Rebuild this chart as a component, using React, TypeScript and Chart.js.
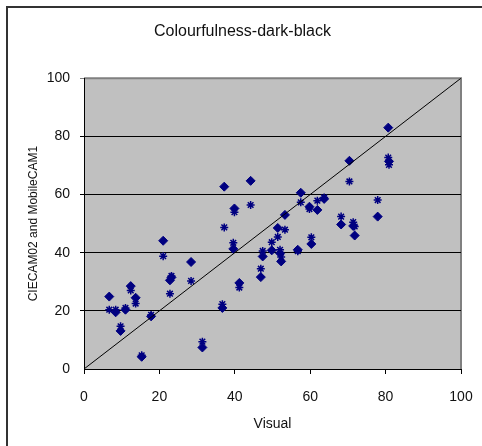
import React, { useEffect, useRef } from "react";
import { Chart, registerables } from "chart.js";

Chart.register(...registerables);

const titleText = "Colourfulness-dark-black";
const xTitle = "Visual";
const yTitle = "CIECAM02 and MobileCAM1";
const tickValues = [0, 20, 40, 60, 80, 100];

const visual = [6.7, 8.4, 9.7, 11.0, 12.4, 13.7, 15.3, 17.8, 21.0, 22.8, 23.2, 28.4, 31.4, 36.7, 37.2, 39.6, 39.9, 41.2, 44.2, 46.9, 47.4, 49.8, 51.4, 52.0, 52.3, 53.3, 56.7, 57.5, 59.8, 60.3, 61.9, 63.7, 68.2, 70.4, 71.4, 71.8, 77.9, 80.7, 80.9];
const ciecam02 = [24.9, 19.5, 13.1, 20.4, 28.5, 24.5, 4.2, 18.1, 44.1, 30.5, 31.5, 36.8, 7.4, 21.0, 62.7, 41.3, 55.2, 29.6, 64.7, 31.6, 38.7, 40.8, 48.5, 39.8, 37.0, 53.0, 41.0, 60.6, 55.8, 43.0, 54.7, 58.5, 49.7, 71.6, 49.2, 45.9, 52.4, 83.0, 71.4];
const mobilecam1 = [20.4, 20.4, 14.7, 21.0, 27.0, 22.5, 4.7, 18.6, 38.8, 25.9, 32.0, 30.3, 9.4, 22.3, 48.7, 43.4, 53.9, 28.0, 56.4, 34.5, 40.6, 43.6, 45.4, 41.0, 38.5, 47.9, 40.5, 57.3, 55.0, 45.3, 57.9, 59.0, 52.4, 64.5, 50.5, 49.0, 58.1, 72.7, 70.2];
const diagonal = [0, 100];

const plotBg = {
  id: "plotBg",
  beforeDraw(chart: any) {
    const { ctx, chartArea: a } = chart;
    ctx.save();
    ctx.fillStyle = "#C0C0C0";
    ctx.fillRect(a.left, a.top, a.right - a.left, a.bottom - a.top);
    ctx.strokeStyle = "#808080";
    ctx.lineWidth = 2;
    ctx.beginPath();
    ctx.moveTo(a.left, a.top);
    ctx.lineTo(a.right, a.top);
    ctx.lineTo(a.right, a.bottom);
    ctx.stroke();
    ctx.restore();
  },
};

export default function App() {
  const ref = useRef<HTMLCanvasElement>(null);
  useEffect(() => {
    if (!ref.current) return;
    const font = "'Liberation Sans', Arial, sans-serif";
    const chart = new Chart(ref.current, {
      type: "scatter",
      data: {
        datasets: [
          {
            type: "line",
            label: "y=x",
            data: diagonal.map((v) => ({ x: v, y: v })),
            borderColor: "#000000",
            borderWidth: 1,
            pointRadius: 0,
            showLine: true,
          } as any,
          {
            label: "MobileCAM1",
            data: visual.map((v, i) => ({ x: v, y: mobilecam1[i] })),
            pointStyle: "star",
            pointRadius: 4,
            borderColor: "#000080",
            backgroundColor: "#000080",
            borderWidth: 1.5,
          },
          {
            label: "CIECAM02",
            data: visual.map((v, i) => ({ x: v, y: ciecam02[i] })),
            pointStyle: "rectRot",
            pointRadius: 4.5,
            borderColor: "#000080",
            backgroundColor: "#000080",
            borderWidth: 1,
          },
        ],
      },
      options: {
        animation: false,
        responsive: false,
        layout: { padding: { left: 3, right: 0, top: 0, bottom: 0 } },
        plugins: {
          legend: { display: false },
          tooltip: { enabled: false },
          title: {
            display: true,
            text: titleText,
            color: "#111",
            font: { family: font, size: 16, weight: "normal" },
            padding: { top: 22, bottom: 37 },
          },
        },
        scales: {
          x: {
            type: "linear",
            min: 0,
            max: 100,
            afterBuildTicks: (s: any) => {
              s.ticks = tickValues.map((v) => ({ value: v }));
            },
            afterFit: (s: any) => {
              s.height = 77;
              s.paddingLeft = 0;
              s.paddingRight = 21;
            },
            ticks: {
              color: "#111",
              font: { family: font, size: 14 },
              padding: 15,
            },
            grid: {
              drawOnChartArea: false,
              drawTicks: true,
              tickLength: 5,
              color: "#000",
            },
            border: { color: "#000", width: 1 },
            title: {
              display: true,
              text: xTitle,
              color: "#111",
              font: { family: font, size: 14 },
              padding: { top: 0, bottom: 13 },
            },
          },
          y: {
            type: "linear",
            min: 0,
            max: 100,
            afterBuildTicks: (s: any) => {
              s.ticks = tickValues.map((v) => ({ value: v }));
            },
            afterFit: (s: any) => {
              s.width = 81;
            },
            ticks: {
              color: "#111",
              font: { family: font, size: 14 },
              padding: 10,
            },
            grid: {
              drawOnChartArea: true,
              drawTicks: true,
              tickLength: 4,
              color: (c: any) => (c.tick && c.tick.value === 100 ? "#808080" : "#000"),
              lineWidth: (c: any) => (c.tick && c.tick.value === 0 ? 0 : 1),
            },
            border: { color: "#000", width: 1 },
            title: {
              display: true,
              text: yTitle,
              color: "#111",
              font: { family: font, size: 12 },
              padding: { top: 23, bottom: 0 },
            },
          },
        },
      },
      plugins: [plotBg],
    });
    return () => chart.destroy();
  }, []);

  return (
    <div style={{ position: "absolute", left: 0, top: 0, width: 482, height: 446, background: "#fff" }}>
      <canvas ref={ref} width={482} height={446} style={{ position: "absolute", left: 0, top: 0 }} />
      <div
        style={{
          position: "absolute",
          left: 6,
          top: 6,
          width: 476,
          height: 440,
          borderLeft: "2px solid #333",
          borderTop: "2px solid #333",
          boxSizing: "border-box",
          pointerEvents: "none",
        }}
      />
    </div>
  );
}
